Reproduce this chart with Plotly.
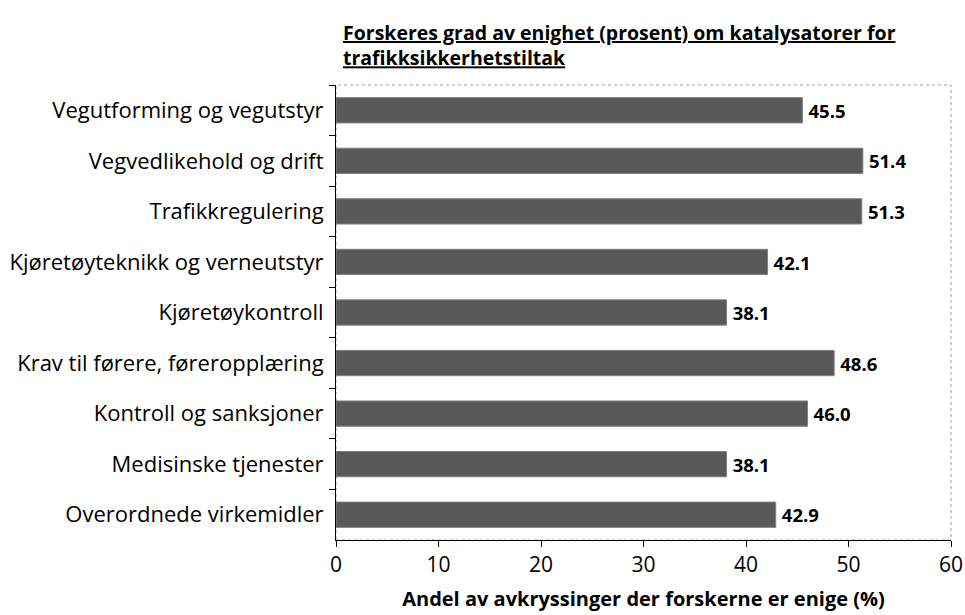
import plotly.graph_objects as go

categories = [
    "Vegutforming og vegutstyr",
    "Vegvedlikehold og drift",
    "Trafikkregulering",
    "Kjøretøyteknikk og verneutstyr",
    "Kjøretøykontroll",
    "Krav til førere, føreropplæring",
    "Kontroll og sanksjoner",
    "Medisinske tjenester",
    "Overordnede virkemidler",
]
values = [45.5, 51.4, 51.3, 42.1, 38.1, 48.6, 46.0, 38.1, 42.9]
x_ticks = [0, 10, 20, 30, 40, 50, 60]

title_text = "Forskeres grad av enighet (prosent) om katalysatorer for<br>trafikksikkerhetstiltak"
x_title = "Andel av avkryssinger der forskerne er enige (%)"

FONT = "Open Sans, sans-serif"

fig = go.Figure()
fig.add_trace(go.Bar(
    y=categories,
    x=values,
    orientation="h",
    marker=dict(color="#595959", line=dict(color="#808080", width=1)),
    width=0.5,
    text=[f"\u2009{v:.1f}" for v in values],
    textposition="outside",
    textfont=dict(family=FONT, size=22, color="black", weight="bold"),
    cliponaxis=False,
))

fig.update_layout(
    width=965, height=615,
    margin=dict(l=336, r=14, t=85, b=75, autoexpand=False),
    plot_bgcolor="white",
    paper_bgcolor="white",
    showlegend=False,
    font=dict(family=FONT, size=21, color="black"),
    xaxis=dict(
        range=[0, 60],
        tickvals=x_ticks,
        ticks="outside", ticklen=6, tickcolor="black",
        showline=True, linecolor="black", linewidth=1,
        showgrid=False, zeroline=False,
        tickfont=dict(size=21),
        automargin=False,
        title=dict(text=f"<b>{x_title}</b>", font=dict(size=20), standoff=14),
    ),
    yaxis=dict(
        autorange="reversed",
        showline=True, linecolor="black", linewidth=1,
        showgrid=False, zeroline=False,
        ticks="outside", ticklen=6, tickcolor="black",
        tickson="boundaries",
        tickfont=dict(size=22),
        ticklabelstandoff=7,
        automargin=False,
    ),
    shapes=[dict(
        type="rect", xref="paper", yref="paper", x0=0, x1=1, y0=0, y1=1,
        line=dict(color="#a0a0a0", width=1, dash="dot"), layer="below",
    )],
    annotations=[dict(
        text=f"<u><b>{title_text}</b></u>",
        xref="paper", yref="paper", x=0, y=1.0,
        xanchor="left", yanchor="bottom", xshift=5, yshift=12,
        align="left", showarrow=False,
        font=dict(size=19.5, color="black"),
    )],
)

fig.write_html(
    "out.html",
    config={"displayModeBar": False},
    post_script="document.body.style.margin='0';document.body.style.overflow='hidden';",
)
